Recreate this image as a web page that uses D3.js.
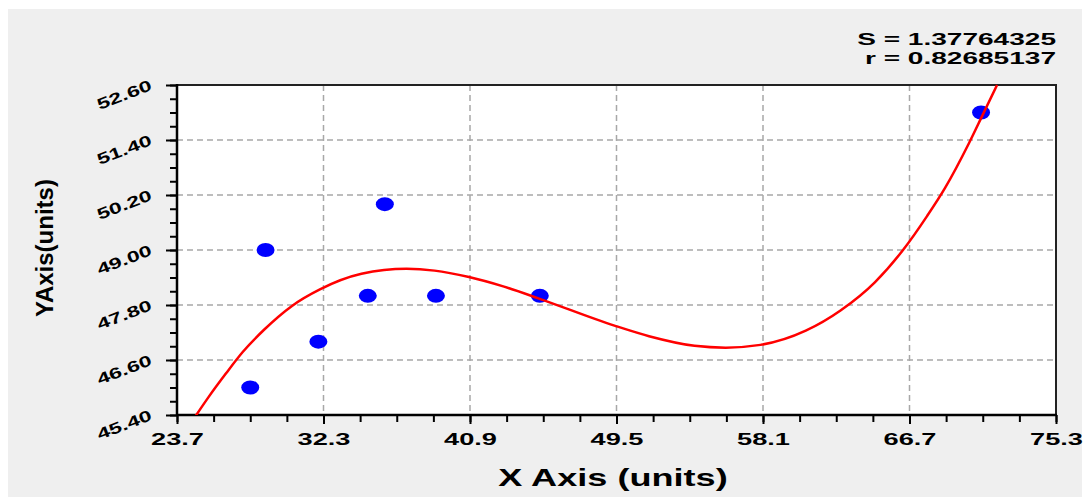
<!DOCTYPE html>
<html>
<head>
<meta charset="utf-8">
<script src="https://cdn.jsdelivr.net/npm/d3@7"></script>
<style>
  body { margin: 0; background: #fff; }
  svg { display: block; }
  text { font-family: "Liberation Sans", Arial, sans-serif; font-weight: bold; fill: #000; }
</style>
</head>
<body>
<svg id="chart" width="1090" height="497"></svg>
<script>
(function () {
    // measured points
    const pointX = [28.0, 28.9, 32.0, 34.9, 35.9, 38.9, 45.0, 70.9];
    const pointY = [46.0, 49.0, 47.0, 48.0, 50.0, 48.0, 48.0, 52.0];

    // fitted curve
    const curveX = [24.76, 25.55, 26.58, 27.57, 28.81, 30.45, 32.09, 34.53, 37.18, 38.82,
                    40.84, 42.90, 44.95, 49.38, 51.41, 54.08, 55.91, 57.95, 60.61, 62.65,
                    64.68, 66.32, 67.73, 68.78, 70.19, 71.01, 71.84];
    const curveY = [45.36, 45.79, 46.31, 46.78, 47.26, 47.78, 48.14, 48.48, 48.59, 48.55,
                    48.41, 48.20, 47.94, 47.35, 47.12, 46.91, 46.87, 46.93, 47.24, 47.68,
                    48.30, 49.00, 49.74, 50.35, 51.33, 51.96, 52.60];

    const xTicks = [23.7, 32.3, 40.9, 49.5, 58.1, 66.7, 75.3];
    const yTicks = [45.40, 46.60, 47.80, 49.00, 50.20, 51.40, 52.60];
    const statLines = ["S = 1.37764325", "r = 0.82685137"];
    const xTitle = "X Axis (units)";
    const yTitle = "YAxis(units)";

    const svg = d3.select("#chart");

    // grey panel behind the chart
    svg.append("rect")
        .attr("x", 8).attr("y", 9)
        .attr("width", 1074).attr("height", 488)
        .attr("fill", "#efefef");

    const left = 177, right = 1056, top = 85, bottom = 415;

    const x = d3.scaleLinear().domain([23.7, 75.3]).range([left, right]);
    const y = d3.scaleLinear().domain([45.4, 52.6]).range([bottom, top]);

    // plot area
    svg.append("rect")
        .attr("x", left).attr("y", top)
        .attr("width", right - left).attr("height", bottom - top)
        .attr("fill", "#fff");

    // dashed grid
    const grid = svg.append("g")
        .attr("stroke", "#a8a8a8")
        .attr("stroke-width", 1.5)
        .attr("stroke-dasharray", "6,4");
    grid.selectAll(".vg")
        .data(xTicks.slice(1, -1))
        .enter().append("line")
        .attr("x1", d => x(d)).attr("x2", d => x(d))
        .attr("y1", top).attr("y2", bottom);
    grid.selectAll(".hg")
        .data(yTicks.slice(1, -1))
        .enter().append("line")
        .attr("x1", left).attr("x2", right)
        .attr("y1", d => y(d)).attr("y2", d => y(d));

    // minor ticks
    const xMinor = d3.range(23.7, 75.31, 2.15);
    const yMinor = d3.range(45.4, 52.61, 0.3);

    svg.append("g")
        .attr("transform", `translate(0,${bottom})`)
        .call(d3.axisBottom(x).tickValues(xMinor).tickSize(7).tickFormat(""))
        .call(g => g.select(".domain").remove())
        .selectAll("line").attr("stroke", "#000").attr("stroke-width", 2);

    svg.append("g")
        .attr("transform", `translate(${left},0)`)
        .call(d3.axisLeft(y).tickValues(yMinor).tickSize(7).tickFormat(""))
        .call(g => g.select(".domain").remove())
        .selectAll("line").attr("stroke", "#000").attr("stroke-width", 2);

    // major ticks + labels
    const xAxis = svg.append("g")
        .attr("transform", `translate(0,${bottom})`)
        .call(d3.axisBottom(x).tickValues(xTicks).tickSize(9).tickFormat(d3.format(".1f")));
    xAxis.select(".domain").remove();
    xAxis.selectAll("line").attr("stroke", "#000").attr("stroke-width", 2);
    xAxis.selectAll("text")
        .attr("y", 30).attr("dy", 0)
        .attr("font-size", 17)
        .attr("transform", "scale(1.6,1)");

    const yAxis = svg.append("g")
        .attr("transform", `translate(${left},0)`)
        .call(d3.axisLeft(y).tickValues(yTicks).tickSize(11).tickFormat(d3.format(".2f")));
    yAxis.select(".domain").remove();
    yAxis.selectAll("line").attr("stroke", "#000").attr("stroke-width", 2);
    yAxis.selectAll("text")
        .attr("x", 0).attr("dy", 0)
        .attr("font-size", 15.5)
        .attr("text-anchor", "end")
        .attr("transform", "translate(-24,4) rotate(-21) scale(1.48,1)");

    // frame
    svg.append("rect")
        .attr("x", left).attr("y", top)
        .attr("width", right - left).attr("height", bottom - top)
        .attr("fill", "none")
        .attr("stroke", "#222")
        .attr("stroke-width", 2);
    svg.append("line")
        .attr("x1", left).attr("x2", left).attr("y1", top - 1).attr("y2", bottom + 1)
        .attr("stroke", "#000").attr("stroke-width", 2.5);
    svg.append("line")
        .attr("x1", left).attr("x2", right + 1).attr("y1", bottom).attr("y2", bottom)
        .attr("stroke", "#000").attr("stroke-width", 2.5);

    // clip for the curve
    svg.append("clipPath").attr("id", "plotclip")
        .append("rect")
        .attr("x", left).attr("y", top - 3)
        .attr("width", right - left).attr("height", bottom - top + 3);

    // points
    svg.append("g")
        .selectAll("ellipse")
        .data(pointX.map((d, i) => [d, pointY[i]]))
        .enter().append("ellipse")
        .attr("cx", d => x(d[0]))
        .attr("cy", d => y(d[1]))
        .attr("rx", 9).attr("ry", 7)
        .attr("fill", "#0000ff");

    // fit curve
    const line = d3.line()
        .x(d => x(d[0]))
        .y(d => y(d[1]))
        .curve(d3.curveMonotoneX);
    svg.append("path")
        .datum(curveX.map((d, i) => [d, curveY[i]]))
        .attr("clip-path", "url(#plotclip)")
        .attr("d", line)
        .attr("fill", "none")
        .attr("stroke", "#ff0000")
        .attr("stroke-width", 2.5);

    // stats
    svg.selectAll(".stat")
        .data(statLines)
        .enter().append("text")
        .attr("class", "stat")
        .attr("text-anchor", "end")
        .attr("font-size", 17)
        .attr("transform", (d, i) => `translate(${right},${45 + i * 19}) scale(1.65,1)`)
        .text(d => d);

    // axis titles
    svg.append("text")
        .attr("text-anchor", "middle")
        .attr("font-size", 23)
        .attr("transform", "translate(613,486) scale(1.57,1)")
        .text(xTitle);

    svg.append("text")
        .attr("text-anchor", "middle")
        .attr("font-size", 24)
        .attr("transform", "translate(53,248) rotate(-90)")
        .text(yTitle);
})();
</script>
</body>
</html>
